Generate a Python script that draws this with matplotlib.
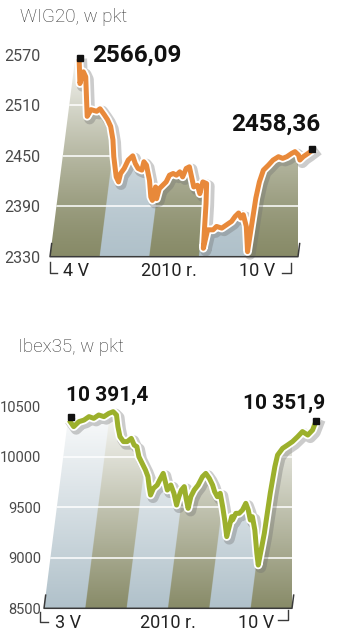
import numpy as np
import matplotlib
matplotlib.use('Agg')
import matplotlib.pyplot as plt
from matplotlib.transforms import Affine2D
from matplotlib.patches import Polygon
import matplotlib.patheffects as pe

plt.rcParams['font.family'] = ['Roboto', 'DejaVu Sans']

# WIG20, intraday 4-10 May 2010 (x = trading days from 4 May)
wig_x = [0.09, 0.16, 0.20, 0.26, 0.39, 0.45, 0.57, 0.63, 0.73, 0.81, 0.89, 0.97,
         1.03, 1.13, 1.19, 1.21, 1.27, 1.33, 1.41, 1.48, 1.55, 1.63, 1.65, 1.71,
         1.81, 1.88, 1.92, 1.95, 2.00, 2.03, 2.09, 2.15, 2.20, 2.27, 2.34, 2.40,
         2.47, 2.52, 2.58, 2.65, 2.72, 2.79, 2.86, 2.89, 2.97, 3.01, 3.04, 3.07,
         3.11, 3.22, 3.28, 3.39, 3.48, 3.57, 3.63, 3.69, 3.75, 3.79, 3.88, 3.97,
         4.00, 4.03, 4.08, 4.17, 4.25, 4.35, 4.44, 4.52, 4.61, 4.67, 4.75, 4.79,
         4.85, 4.94, 5.00]
wig_y = [2562, 2536, 2550, 2544, 2497, 2505, 2503, 2506, 2499, 2493, 2485, 2469,
         2449, 2425, 2419, 2429, 2435, 2445, 2450, 2441, 2435, 2433, 2443, 2439,
         2421, 2401, 2397, 2413, 2399, 2411, 2415, 2419, 2427, 2429, 2427, 2431,
         2425, 2435, 2437, 2425, 2413, 2415, 2405, 2419, 2417, 2393, 2366, 2340,
         2362, 2362, 2366, 2364, 2368, 2372, 2378, 2382, 2376, 2380, 2366, 2336,
         2400, 2419, 2433, 2439, 2445, 2449, 2447, 2449, 2453, 2455, 2451, 2445,
         2449, 2453, 2456]
wig_first = 2566.09
wig_last = 2458.36
wig_ticks = [2330, 2390, 2450, 2510, 2570]
wig_xlabels = ['4 V', '2010 r.', '10 V']

# Ibex35, intraday 3-10 May 2010 (x = trading days from 3 May)
ibex_x = [0.07, 0.16, 0.27, 0.39, 0.50, 0.62, 0.73, 0.86, 0.97, 1.07, 1.16, 1.23,
          1.31, 1.41, 1.50, 1.59, 1.68, 1.75, 1.83, 1.93, 2.03, 2.11, 2.17, 2.23,
          2.28, 2.36, 2.42, 2.47, 2.56, 2.62, 2.69, 2.79, 2.89, 2.92, 2.96, 3.02,
          3.10, 3.18, 3.21, 3.27, 3.35, 3.43, 3.50, 3.60, 3.70, 3.77, 3.85, 3.91,
          4.01, 4.10, 4.20, 4.23, 4.26, 4.29, 4.35, 4.43, 4.50, 4.56, 4.64, 4.72,
          4.76, 4.86, 4.98, 5.05, 5.08, 5.10, 5.12, 5.15, 5.18, 5.28, 5.39, 5.50,
          5.61, 5.71, 5.85, 5.95, 6.00]
ibex_y = [10340, 10296, 10345, 10361, 10395, 10378, 10411, 10395, 10427, 10444,
          10411, 10296, 10197, 10148, 10148, 10180, 10114, 10098, 9999, 9933,
          9867, 9802, 9703, 9620, 9686, 9719, 9785, 9834, 9736, 9669, 9719, 9637,
          9521, 9604, 9669, 9703, 9587, 9488, 9604, 9669, 9719, 9802, 9834, 9785,
          9719, 9653, 9604, 9637, 9505, 9373, 9209, 9307, 9406, 9373, 9439, 9439,
          9472, 9538, 9472, 9373, 9406, 9274, 9044, 8928, 9110, 9241, 9637, 9900,
          10015, 10081, 10114, 10148, 10197, 10247, 10213, 10262, 10340]
ibex_first = 10391.4
ibex_last = 10351.9
ibex_ticks = [8500, 9000, 9500, 10000, 10500]
ibex_xlabels = ['3 V', '2010 r.', '10 V']

OLIVE = np.array([136, 139, 104]) / 255
BLUE = np.array([176, 193, 202]) / 255
AXIS_COL = '#3a3a3a'

fig = plt.figure(figsize=(3.42, 6.4), dpi=100)


def sheared(ax, k=0.127):
    # chart is drawn slanted: x moves right as y goes up
    pos = ax.get_position()
    w = pos.width * fig.get_figwidth()
    h = pos.height * fig.get_figheight()
    c = k * h / w
    return ax.transScale + ax.transLimits + Affine2D().skew(np.arctan(c), 0) + ax.transAxes


def panel(rect, xs, ys, ticks, xlabels, xlabel_pos, first, last, fmt,
          line_color, fade, ytick_size, lab_size, first_off, last_off, brackets):
    ax = fig.add_axes(rect)
    ndays = int(round(xs[-1]))
    ymin, ymax = ticks[0], ticks[-1]
    ax.set_xlim(0, ndays)
    ax.set_ylim(ymin, ymax)
    tr = sheared(ax)

    # striped background, one band per trading day, fading upward
    nx, ny = ndays * 100, 200
    day = np.floor(np.linspace(0, ndays, nx, endpoint=False)).astype(int)
    olive = ((ndays - 1 - day) % 2 == 0)
    base = np.where(olive[:, None], OLIVE, BLUE)
    frac = np.linspace(0, 1, ny)[:, None, None]
    w = fade[0] * frac ** fade[1]
    img = base[None, :, :] * (1 - w) + w
    im = ax.imshow(img, extent=(0, ndays, ymin, ymax), origin='lower',
                   aspect='auto', transform=tr, zorder=1)

    verts = np.column_stack([np.r_[0, 0, xs, ndays], np.r_[ymin, ys[0], ys, ymin]])
    area = Polygon(verts, closed=True, transform=tr, facecolor='none', edgecolor='none')
    ax.add_patch(area)
    im.set_clip_path(area)

    for v in ticks[1:-1]:
        gl, = ax.plot([0, ndays], [v, v], color='white', lw=1.1, transform=tr, zorder=2)
        gl.set_clip_path(area)

    ax.plot(xs, ys, color=line_color, lw=3.6, transform=tr, zorder=4,
            solid_joinstyle='round', clip_on=False,
            path_effects=[pe.SimpleLineShadow(offset=(1.8, -1.8), shadow_color='#6f6f6f',
                                              alpha=0.35, rho=1, linewidth=8),
                          pe.Stroke(linewidth=6.2, foreground='white'), pe.Normal()])

    d = 0.065 * (ymax - ymin)
    ax.plot([0, 0, ndays, ndays], [ymin + d, ymin, ymin, ymin + d], color=AXIS_COL,
            lw=1.1, transform=tr, clip_on=False, zorder=5)

    ax.plot([xs[0], xs[-1]], [first, last], 's', ms=4.6, color='#111111',
            transform=tr, clip_on=False, zorder=6)
    ax.annotate(fmt(first), xy=(xs[0], first), xycoords=tr, xytext=first_off,
                textcoords='offset pixels', ha='left', va='center',
                fontsize=lab_size, fontweight='bold', color='#111111')
    ax.annotate(fmt(last), xy=(xs[-1], last), xycoords=tr, xytext=last_off,
                textcoords='offset pixels', ha='right', va='center',
                fontsize=lab_size, fontweight='bold', color='#111111')

    # bracket marks under the axis
    (lx, ly0, ly1, lx1), (rx, ry0, ry1, rx1) = brackets
    ax.plot([lx, lx, lx1], [ly0, ly1, ly1], color=AXIS_COL, lw=1, transform=ax.transAxes,
            clip_on=False)
    ax.plot([rx1, rx, rx], [ry1, ry1, ry0], color=AXIS_COL, lw=1, transform=ax.transAxes,
            clip_on=False)

    ax.set_yticks(ticks, [str(t) for t in ticks])
    ax.set_xticks(xlabel_pos, xlabels)
    ax.tick_params(axis='y', length=0, pad=7, labelsize=ytick_size, labelcolor='#4a4a4a')
    ax.tick_params(axis='x', length=0, pad=4, labelsize=13, labelcolor='#222222')
    for s in ax.spines.values():
        s.set_visible(False)
    ax.patch.set_visible(False)
    ax.set_xlim(0, ndays)
    ax.set_ylim(ymin, ymax)
    return ax


def fmt_wig(v):
    return f"{v:.2f}".replace('.', ',')


def fmt_ibex(v):
    return f"{v:,.1f}".replace(',', ' ').replace('.', ',')


panel([50 / 342, 1 - 256.7 / 640, 248 / 342, 201.7 / 640], wig_x, wig_y, wig_ticks,
      wig_xlabels, [0.53, 2.39, 4.18], wig_first, wig_last, fmt_wig, '#e8893a',
      (0.95, 1.3), 11.5, 17.5, (12, 3), (9, 25),
      ((0.0, -0.025, -0.08, 0.03), (0.972, -0.031, -0.082, 0.934)))

ax2 = panel([44 / 342, 1 - 608.3 / 640, 248 / 342, 202.3 / 640], ibex_x, ibex_y, ibex_ticks,
            ibex_xlabels, [0.59, 3.0, 5.13], ibex_first, ibex_last, fmt_ibex, '#9cb02c',
            (0.97, 1.0), 10.5, 15, (-5, 22), (9, 18),
            ((-0.016, -0.017, -0.066, 0.018), (0.985, -0.008, -0.058, 0.945)))
ax2.tick_params(axis='y', pad=2)

fig.text(20 / 342, 1 - 17 / 640, 'WIG20, w pkt', fontsize=13.5, color='#333333',
         fontweight='light', va='center', ha='left')
fig.text(18 / 342, 1 - 347 / 640, 'Ibex35, w pkt', fontsize=13.5, color='#333333',
         fontweight='light', va='center', ha='left')

fig.savefig('out.png', dpi=100)
